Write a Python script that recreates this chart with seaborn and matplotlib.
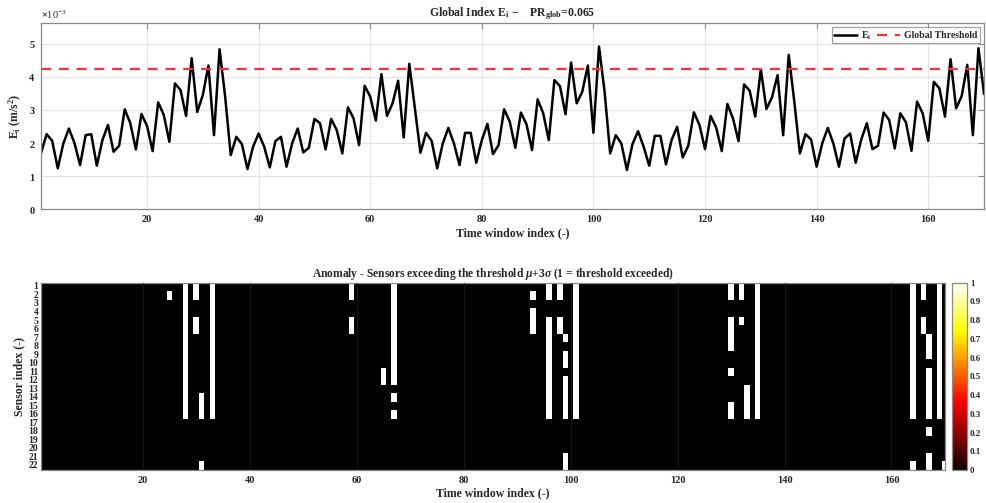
import numpy as np
import pandas as pd
import matplotlib
matplotlib.use("Agg")
import matplotlib.pyplot as plt
import seaborn as sns
from matplotlib.ticker import ScalarFormatter
from matplotlib.colors import ListedColormap

# ---------------- data ----------------
# Global index E_i per time window (values in 1e-3 m/s^2)
e_i_milli = [
    1.70, 2.27, 2.07, 1.24, 1.99, 2.44, 2.00, 1.34, 2.24, 2.27,
    1.32, 2.09, 2.55, 1.74, 1.92, 3.02, 2.60, 1.81, 2.88, 2.52,
    1.76, 3.23, 2.85, 2.04, 3.80, 3.60, 2.82, 4.56, 2.94, 3.45,
    4.34, 2.24, 4.83, 3.40, 1.64, 2.19, 1.97, 1.22, 1.89, 2.29,
    1.89, 1.27, 2.06, 2.19, 1.29, 1.99, 2.44, 1.72, 1.86, 2.73,
    2.60, 1.81, 2.73, 2.39, 1.69, 3.08, 2.75, 1.94, 3.73, 3.40,
    2.68, 4.08, 2.82, 3.20, 3.88, 2.17, 4.39, 3.05, 1.71, 2.31,
    2.07, 1.24, 1.99, 2.46, 1.99, 1.34, 2.31, 2.31, 1.41, 2.09,
    2.58, 1.67, 1.94, 3.02, 2.65, 1.86, 2.92, 2.57, 1.79, 3.32,
    2.90, 2.09, 3.90, 3.72, 2.87, 4.43, 3.20, 3.55, 4.34, 2.31,
    4.91, 3.55, 1.69, 2.24, 1.99, 1.19, 1.97, 2.36, 1.89, 1.32,
    2.22, 2.22, 1.36, 2.09, 2.49, 1.57, 1.92, 2.93, 2.55, 1.82,
    2.82, 2.47, 1.76, 3.18, 2.75, 2.06, 3.77, 3.58, 2.80, 4.23,
    3.03, 3.38, 4.05, 2.24, 4.66, 3.25, 1.69, 2.27, 2.11, 1.29,
    1.99, 2.46, 1.99, 1.29, 2.14, 2.29, 1.41, 2.11, 2.60, 1.82,
    1.92, 2.92, 2.70, 1.84, 2.90, 2.63, 1.77, 3.25, 2.90, 2.07,
    3.85, 3.65, 2.80, 4.53, 3.05, 3.42, 4.36, 2.24, 4.86, 3.48,
]
threshold_milli = 4.23
pr_glob = 0.065

n_windows = len(e_i_milli)
n_sensors = 22
windows = list(range(1, n_windows + 1))
sensor_labels = [str(s) for s in range(1, n_sensors + 1)]
x_tick_values = [20, 40, 60, 80, 100, 120, 140, 160]
cbar_ticks = [0, 0.1, 0.2, 0.3, 0.4, 0.5, 0.6, 0.7, 0.8, 0.9, 1]

# sensors exceeding mu+3sigma (window -> sensor indices)
anomalies = {
    25: [2],
    28: list(range(1, 17)),
    30: [1, 2, 5, 6],
    31: [14, 15, 16, 22],
    33: list(range(1, 17)),
    59: [1, 2, 5, 6],
    65: [11, 12],
    67: list(range(1, 13)) + [14, 16],
    93: [2, 4, 5, 6],
    96: [1, 2] + list(range(5, 17)),
    98: [1, 2, 5, 6],
    99: [7, 9, 10, 12, 13, 14, 15, 16, 21, 22],
    101: list(range(1, 17)),
    130: [1, 2, 5, 6, 7, 8, 11, 15, 16],
    132: [1, 2, 5],
    133: [13, 14, 15, 16],
    135: list(range(1, 17)),
    164: list(range(1, 17)) + [22],
    166: [1, 2, 5, 6],
    167: [7, 8, 9, 11, 12, 13, 14, 15, 16, 18, 21, 22],
    169: list(range(1, 17)),
    170: [22],
}

E = np.array(e_i_milli) * 1e-3
threshold = threshold_milli * 1e-3

mat = np.zeros((n_sensors, n_windows))
for w, sens in anomalies.items():
    for s in sens:
        mat[s - 1, w - 1] = 1.0
df_map = pd.DataFrame(mat, index=sensor_labels, columns=windows)

# hot colormap with true black at zero
hot_cols = plt.get_cmap("hot")(np.linspace(0, 1, 256))
hot_cols[0, :3] = 0.0
hot_black = ListedColormap(hot_cols)

# ---------------- style ----------------
sns.set_style("white")
plt.rcParams["font.family"] = ["Liberation Serif", "DejaVu Serif"]
plt.rcParams["font.weight"] = "bold"
plt.rcParams["axes.labelweight"] = "bold"
plt.rcParams["axes.titleweight"] = "bold"
plt.rcParams["mathtext.fontset"] = "custom"
plt.rcParams["mathtext.rm"] = "Liberation Serif:bold"
plt.rcParams["mathtext.bf"] = "Liberation Serif:bold"
plt.rcParams["mathtext.it"] = "Liberation Serif:italic:bold"

spine_col = "#8a8a8a"
grid_col = "#e4e4e4"

fig = plt.figure(figsize=(9.86, 5.03), dpi=100)
ax1 = fig.add_axes([0.0416, 0.5835, 0.9564, 0.3714])
ax2 = fig.add_axes([0.0416, 0.0656, 0.9168, 0.3724])
cax = fig.add_axes([0.9655, 0.0656, 0.0155, 0.3724])

# ---------------- top: global index ----------------
df_line = pd.DataFrame({"window": windows, "E": E})
sns.lineplot(data=df_line, x="window", y="E", ax=ax1, color="black",
             linewidth=1.8, label=r"E$_\mathrm{i}$")
ax1.axhline(threshold, color="#ff3030", linestyle=(0, (4.5, 3.5)),
            linewidth=1.6, label="Global Threshold")
ax1.set_xlim(1, n_windows)
ax1.set_ylim(0, 5.63e-3)
ax1.set_xticks(x_tick_values)
ax1.set_yticks([0, 1e-3, 2e-3, 3e-3, 4e-3, 5e-3])
fmt = ScalarFormatter(useMathText=True)
fmt.set_powerlimits((0, 0))
ax1.yaxis.set_major_formatter(fmt)
ax1.yaxis.get_offset_text().set_fontsize(7.5)
ax1.yaxis.get_offset_text().set_fontweight("normal")
ax1.grid(True, color=grid_col, linewidth=0.8)
ax1.set_axisbelow(True)
for sp in ax1.spines.values():
    sp.set_color(spine_col)
    sp.set_linewidth(0.9)
ax1.tick_params(direction="in", length=4, color=spine_col, labelsize=7.5,
                top=True, right=True, pad=4)
ax1.set_xlabel("Time window index (-)", fontsize=8.5, labelpad=2)
ax1.set_ylabel(r"E$_\mathrm{i}$ (m/s$^\mathrm{2}$)", fontsize=8.5, labelpad=3)
ax1.set_title(r"Global Index E$_\mathrm{i}$ $-$    PR$_\mathrm{glob}$=" + f"{pr_glob}",
              fontsize=8.5, pad=5)
leg = ax1.legend(loc="upper right", ncol=2, fontsize=7, frameon=True,
                 fancybox=False, edgecolor=spine_col, handlelength=2.4,
                 columnspacing=0.6, handletextpad=0.4, borderpad=0.2,
                 borderaxespad=0.45)
leg.get_frame().set_linewidth(0.9)

# ---------------- bottom: anomaly map ----------------
sns.heatmap(df_map, ax=ax2, cmap=hot_black, vmin=0, vmax=1, cbar=True,
            cbar_ax=cax, xticklabels=False, yticklabels=True)
ax2.set_xlim(0.5, n_windows - 0.5)
ax2.set_ylim(n_sensors, 0)
ax2.set_xticks([w - 0.5 for w in x_tick_values])
ax2.set_xticklabels([str(w) for w in x_tick_values], rotation=0)
ax2.set_yticks([i + 0.5 for i in range(n_sensors)])
ax2.set_yticklabels(sensor_labels, rotation=0)
for sp in ax2.spines.values():
    sp.set_visible(True)
    sp.set_color(spine_col)
    sp.set_linewidth(0.9)
for w in x_tick_values:
    ax2.axvline(w - 0.5, color="#161616", linewidth=0.7, zorder=3)
ax2.tick_params(axis="x", direction="in", length=4, color=spine_col,
                labelsize=7.5, top=True, pad=4)
ax2.tick_params(axis="y", direction="in", length=4, color="#777777",
                labelsize=7, right=True, pad=2)
ax2.set_xlabel("Time window index (-)", fontsize=8.5, labelpad=2)
ax2.set_ylabel("Sensor index (-)", fontsize=8.5, labelpad=2)
ax2.set_title(r"Anomaly - Sensors exceeding the threshold $\mu$+3$\sigma$ (1 = threshold exceeded)",
              fontsize=8.3, pad=4)

cbar = ax2.collections[0].colorbar
cbar.set_ticks(cbar_ticks)
cbar.set_ticklabels([f"{t:g}" for t in cbar_ticks])
cbar.outline.set_edgecolor(spine_col)
cbar.outline.set_linewidth(0.9)
cax.tick_params(direction="in", length=3, color=spine_col, labelsize=6.5, pad=2)

fig.savefig("out.png", dpi=100)
